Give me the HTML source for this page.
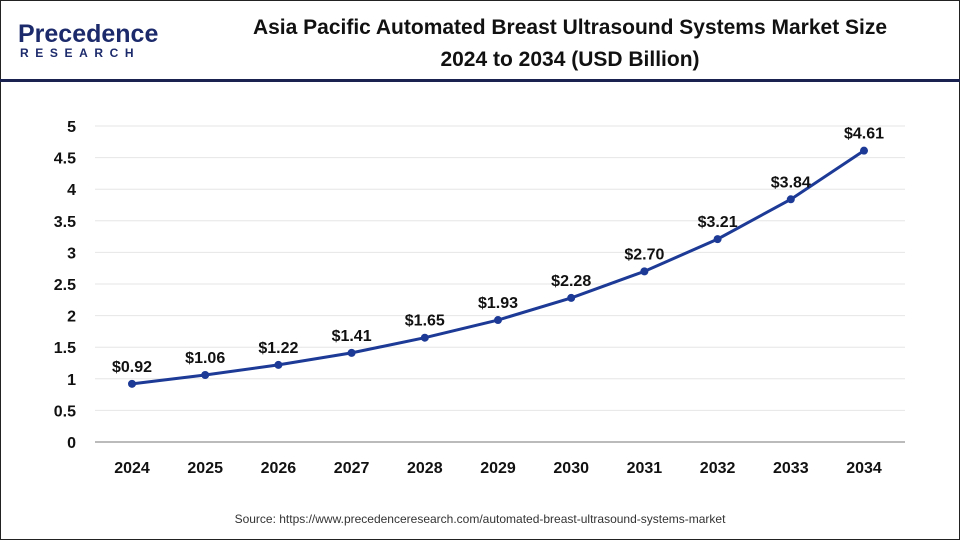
<!DOCTYPE html>
<html><head><meta charset="utf-8"><style>
body{margin:0;width:960px;height:540px;overflow:hidden;background:#fff;font-family:"Liberation Sans",Arial,sans-serif}
#frame{position:absolute;left:0;top:0;width:958px;height:538px;border:1px solid #222}
#hdr-line{position:absolute;left:0;top:79px;width:960px;height:3px;background:#1a2350}
#title{position:absolute;left:190px;width:760px;top:12px;text-align:center;font-weight:bold;font-size:21px;line-height:32px;color:#111}
#logo1{position:absolute;left:18px;top:20px;font-size:25px;color:#1c2a6b;font-weight:bold}
#logo2{position:absolute;left:20px;top:46px;font-size:12px;color:#1c2a6b;font-weight:bold;letter-spacing:6.6px}
#src{position:absolute;left:0;width:960px;top:512px;text-align:center;font-size:12px;color:#333}
</style></head><body>
<div id="frame"></div>
<div id="logo1">Precedence</div>
<div id="logo2">RESEARCH</div>
<div id="title">Asia Pacific Automated Breast Ultrasound Systems Market Size<br>2024 to 2034 (USD Billion)</div>
<div id="hdr-line"></div>
<svg id="chart" width="960" height="540" style="position:absolute;left:0;top:0"></svg>
<div id="src">Source: https://www.precedenceresearch.com/automated-breast-ultrasound-systems-market</div>
<script>
const years=["2024","2025","2026","2027","2028","2029","2030","2031","2032","2033","2034"];
const values=[0.92,1.06,1.22,1.41,1.65,1.93,2.28,2.70,3.21,3.84,4.61];
const labels=["$0.92","$1.06","$1.22","$1.41","$1.65","$1.93","$2.28","$2.70","$3.21","$3.84","$4.61"];
const yTicks=[0,0.5,1,1.5,2,2.5,3,3.5,4,4.5,5];
const NS="http://www.w3.org/2000/svg";
const svg=document.getElementById('chart');
function x(i){return 132+i*(864-132)/(years.length-1);}
function y(v){return 442-v*(442-126)/5;}
function mk(t,a,txt){const e=document.createElementNS(NS,t);for(const k in a)e.setAttribute(k,a[k]);if(txt!==undefined)e.textContent=txt;svg.appendChild(e);return e;}
yTicks.forEach(t=>{
 if(t>0){const g=mk('line',{x1:95,x2:905,y1:y(t),y2:y(t),stroke:'#e6e6e6','stroke-width':1});
 
 }
 const l=mk('text',{x:76,y:y(t)+6,'text-anchor':'end','font-size':16,'font-weight':'bold',fill:'#111'},String(t));
 
 
});
const ax=mk('line',{x1:95,x2:905,y1:y(0),y2:y(0),stroke:'#bbb','stroke-width':2});


years.forEach((yr,i)=>{
 const l=mk('text',{x:x(i),y:473,'text-anchor':'middle','font-size':16,'font-weight':'bold',fill:'#111'},yr);
 
 
});
const pl=mk('polyline',{points:values.map((v,i)=>x(i)+','+y(v)).join(' '),fill:'none',stroke:'#1c3a96','stroke-width':3});


values.forEach((v,i)=>{
 const c=mk('circle',{cx:x(i),cy:y(v),r:4,fill:'#1c3a96'});
 
 
 const t=mk('text',{x:x(i),y:y(v)-12,'text-anchor':'middle','font-size':16,'font-weight':'bold',fill:'#111'},labels[i]);
 
 
});
</script>
</body></html>
